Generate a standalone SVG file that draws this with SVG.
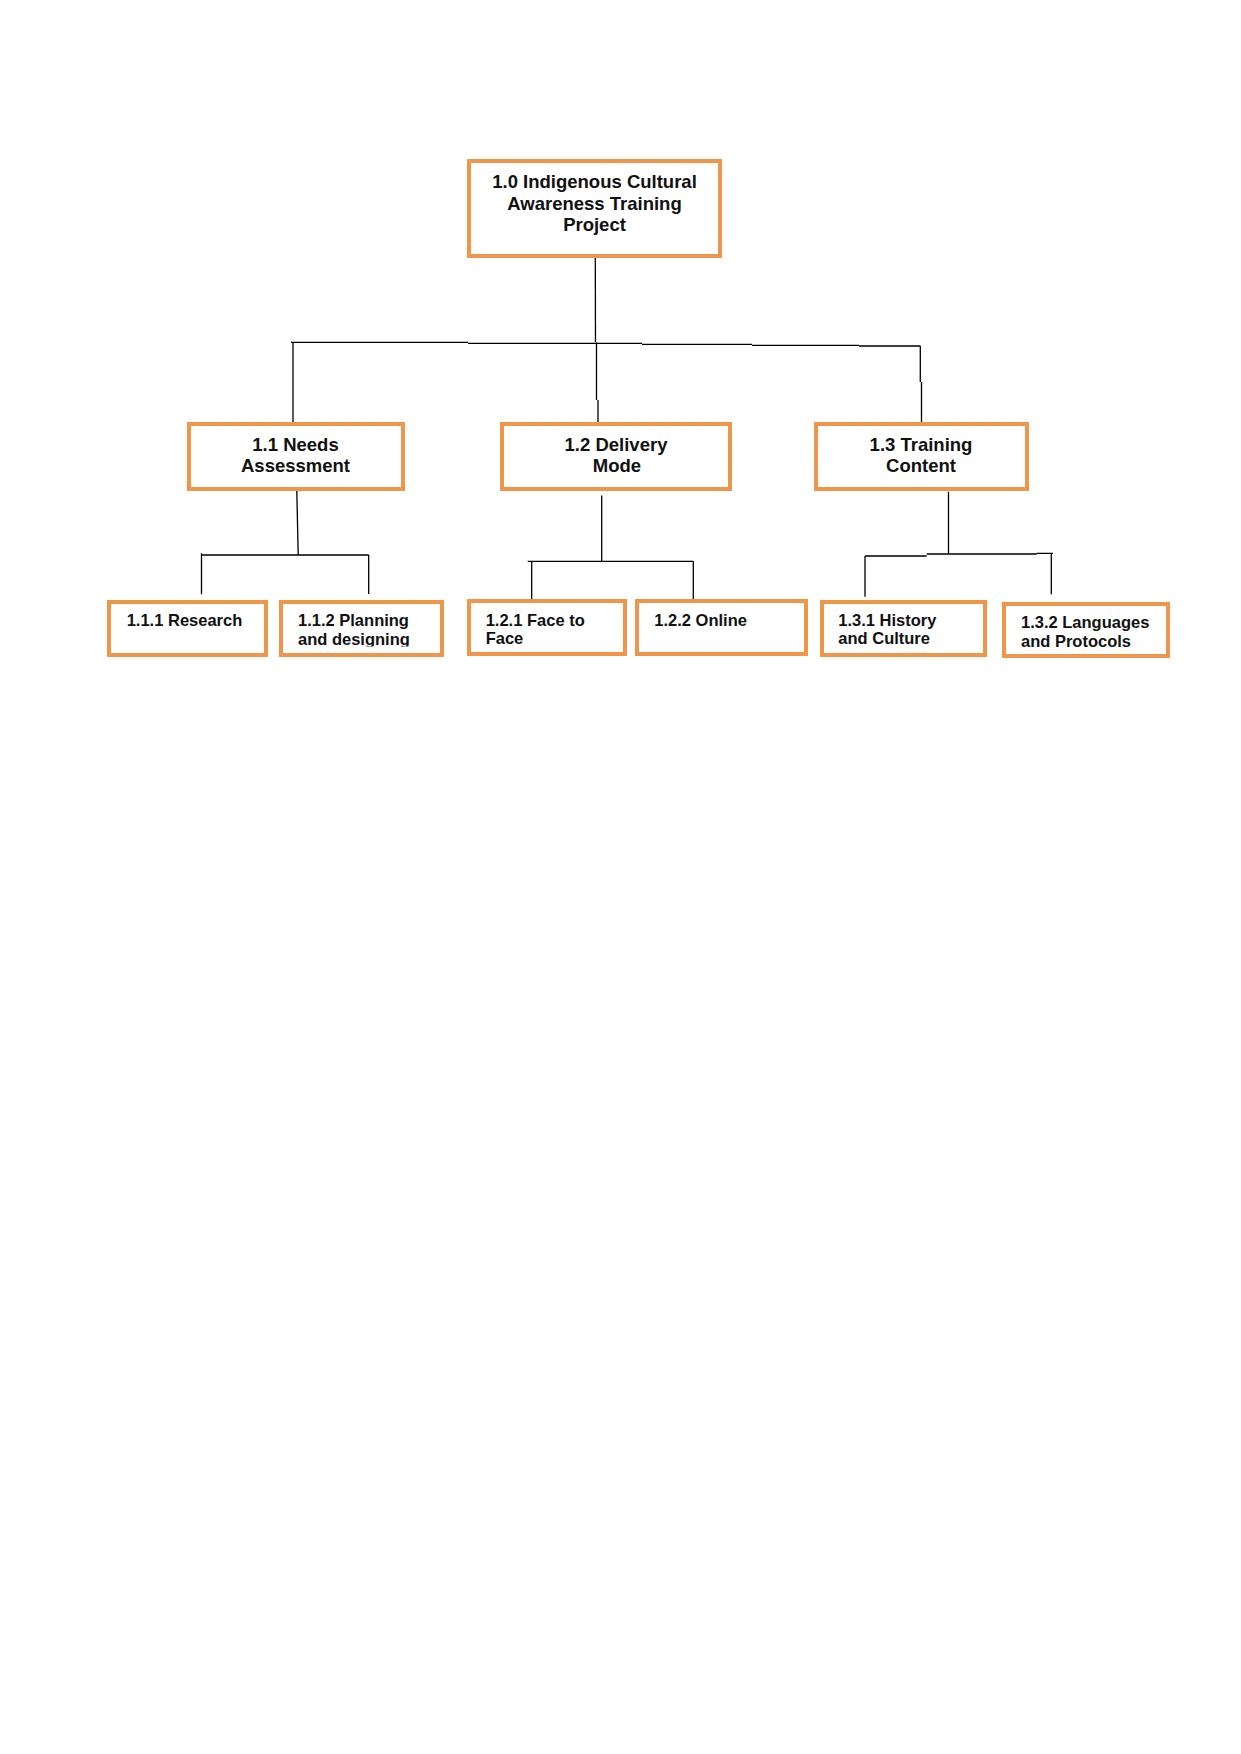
<svg xmlns="http://www.w3.org/2000/svg" width="1241" height="1754" viewBox="0 0 1241 1754">
<style>
.box{fill:#ffffff;stroke:#F0964B;stroke-width:4}
.t1{font-family:"Liberation Sans",Arial,sans-serif;font-weight:bold;font-size:18.5px;fill:#111;text-anchor:middle}
.t2{font-family:"Liberation Sans",Arial,sans-serif;font-weight:bold;font-size:16.5px;fill:#111}
.ln{fill:none;stroke:#000;stroke-width:1.3}
</style>
<defs>
<clipPath id="clip112"><rect x="283" y="604" width="157" height="42.5"/></clipPath>
</defs>
<rect width="1241" height="1754" fill="#ffffff"/>
<g id="connectors">
<path class="ln" d="M595.3 258 L595.5 342.3"/>
<path class="ln" d="M291 342.3 H468 M468 343.3 H642 M642 344.3 H752 M752 345.3 H859 M859 346 H920.5"/>
<path class="ln" d="M293 342.3 V422"/>
<path class="ln" d="M596.5 342.5 V400 M598 400 V422"/>
<path class="ln" d="M920.3 346 V382 M921.5 382 V422"/>
<path class="ln" d="M296.8 491 L298.2 555"/>
<path class="ln" d="M201.5 555 H368.7 M201.5 553.3 V594.3 M368.7 555 V594"/>
<path class="ln" d="M601.7 495.5 V561.3 M527.7 561.3 H693.3 M531.7 561.3 V600 M693.3 561.3 V600"/>
<path class="ln" d="M948.5 491.7 V554"/>
<path class="ln" d="M865 556 H926.7 M926.7 554 H1036.7 M1036.7 553.3 H1053 M865 556 V596.7 M1051.3 553.3 V594.3"/>
</g>
<g id="n1_0">
<rect class="box" x="469" y="161" width="251" height="95"/>
<text class="t1" x="594.5" y="187.5">1.0 Indigenous Cultural</text>
<text class="t1" x="594.5" y="209.5">Awareness Training</text>
<text class="t1" x="594.5" y="231">Project</text>
</g>
<g id="n1_1">
<rect class="box" x="189" y="424" width="214" height="65"/>
<text class="t1" x="295.5" y="450.7">1.1 Needs</text>
<text class="t1" x="295.5" y="471.7">Assessment</text>
</g>
<g id="n1_2">
<rect class="box" x="502" y="424" width="228" height="65"/>
<text class="t1" x="616" y="450.7">1.2 Delivery</text>
<text class="t1" x="617" y="471.7">Mode</text>
</g>
<g id="n1_3">
<rect class="box" x="816" y="424" width="211" height="65"/>
<text class="t1" x="921" y="450.7">1.3 Training</text>
<text class="t1" x="921" y="471.7">Content</text>
</g>
<g id="n1_1_1">
<rect class="box" x="109" y="602" width="157" height="53"/>
<text class="t2" x="126.7" y="625.7">1.1.1 Research</text>
</g>
<g id="n1_1_2">
<rect class="box" x="281" y="602" width="161" height="53"/>
<g clip-path="url(#clip112)">
<text class="t2" x="298" y="625.7">1.1.2 Planning</text>
<text class="t2" x="298" y="644.5">and designing</text>
</g>
</g>
<g id="n1_2_1">
<rect class="box" x="469" y="601" width="156" height="53"/>
<text class="t2" x="485.7" y="626">1.2.1 Face to</text>
<text class="t2" x="485.7" y="644.3">Face</text>
</g>
<g id="n1_2_2">
<rect class="box" x="637" y="601" width="169" height="53"/>
<text class="t2" x="654.3" y="626">1.2.2 Online</text>
</g>
<g id="n1_3_1">
<rect class="box" x="822" y="602" width="163" height="53"/>
<text class="t2" x="838.3" y="626">1.3.1 History</text>
<text class="t2" x="838.3" y="644.3">and Culture</text>
</g>
<g id="n1_3_2">
<rect class="box" x="1004" y="604" width="164" height="52"/>
<text class="t2" x="1021" y="627.7">1.3.2 Languages</text>
<text class="t2" x="1021" y="646.7">and Protocols</text>
</g>
</svg>
